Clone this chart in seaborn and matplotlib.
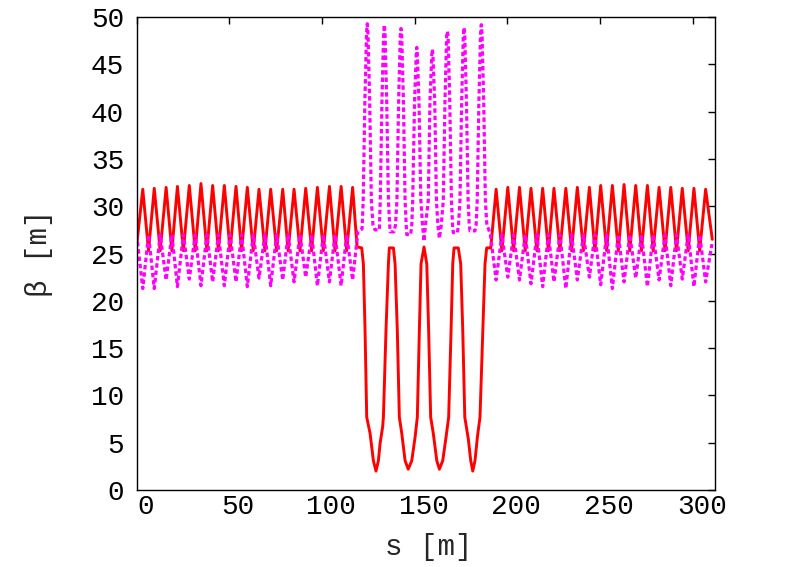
import numpy as np
import pandas as pd
import matplotlib
matplotlib.use('Agg')
import matplotlib.pyplot as plt
import matplotlib.transforms as mtransforms
import seaborn as sns

# horizontal beta (red, solid): s [m], beta [m]
red_s = [0.0, 3.3, 6.4, 9.5, 12.7, 15.9, 19.0, 22.0, 25.2, 28.4, 31.6, 34.7, 37.9,
         41.0, 44.1, 47.3, 50.4, 53.6, 56.6, 59.7, 62.9, 66.0, 69.2, 72.3, 75.5,
         78.8, 81.7, 84.9, 88.1, 91.2, 94.4, 97.5, 100.7, 104.0, 107.0, 110.3, 113.3,
         116.5, 118.9, 121.4,
         122.3, 123.2, 124.1, 125.9, 127.7, 129.1, 130.4, 131.3, 132.7, 133.1, 134.5,
         135.8, 136.3, 138.5,
         139.4, 140.6, 141.7, 143.0, 144.8, 146.5, 148.4, 150.2, 151.4, 152.5, 153.4,
         155.0,
         156.5, 157.5, 158.6, 160.0, 161.9, 163.3, 165.1, 166.9, 168.3, 169.6, 170.5,
         171.2, 173.5,
         174.8, 175.9, 177.0, 178.9, 180.2, 181.3, 182.5, 183.8, 185.2, 186.7, 187.9,
         188.8, 191.0,
         193.9, 197.0, 200.2, 203.3, 206.5, 209.6, 212.7, 215.9, 219.0, 222.1, 225.1,
         228.3, 231.5, 234.6, 237.7, 241.0, 244.2, 247.2, 250.3, 253.5, 256.6, 259.8,
         262.9, 266.0, 269.2, 272.3, 275.5, 278.6, 281.8, 285.0, 288.1, 291.2, 294.3,
         297.5, 300.6, 303.7, 306.9, 310.5]
red_beta = [25.8, 31.8, 25.3, 31.9, 25.3, 32.0, 25.3, 32.1, 25.3, 32.2, 25.3, 32.4, 25.3,
            32.2, 25.3, 32.2, 25.3, 32.1, 25.3, 32.0, 25.3, 31.8, 25.3, 31.8, 25.3,
            31.8, 25.3, 31.8, 25.3, 31.9, 25.3, 32.0, 25.3, 32.1, 25.3, 32.1, 25.3,
            32.0, 25.7, 25.6,
            23.9, 16.9, 7.7, 6.0, 3.1, 2.0, 3.1, 4.9, 6.7, 7.7, 16.9,
            23.9, 25.6, 25.6,
            23.9, 16.9, 7.7, 6.0, 3.1, 2.2, 3.1, 5.6, 7.7, 16.9, 23.9,
            25.7,
            23.9, 16.9, 7.7, 6.0, 3.1, 2.2, 3.1, 5.6, 7.7, 16.9, 23.9,
            25.6, 25.6,
            23.9, 16.9, 7.7, 5.4, 3.1, 2.0, 3.1, 5.6, 7.7, 16.9, 23.9,
            25.6, 25.6,
            31.8, 25.3, 32.0, 25.3, 32.0, 25.3, 31.9, 25.3, 31.9, 25.3, 31.9,
            25.3, 31.9, 25.3, 32.0, 25.3, 32.0, 25.3, 32.2, 25.3, 32.2, 25.3,
            32.3, 25.3, 32.2, 25.3, 32.2, 25.3, 32.0, 25.3, 32.0, 25.3, 31.9,
            25.3, 31.9, 25.3, 31.8, 26.5]

# vertical beta (magenta, dotted)
mag_s = [0.0, 3.3, 6.4, 9.5, 12.7, 15.9, 19.0, 22.0, 25.2, 28.4, 31.6, 34.7, 37.9,
         41.0, 44.1, 47.3, 50.4, 53.6, 56.6, 59.7, 62.9, 66.0, 69.2, 72.3, 75.5,
         78.8, 81.7, 84.9, 88.1, 91.2, 94.4, 97.5, 100.7, 104.0, 107.0, 110.3, 113.3,
         116.5, 119.4, 121.6,
         122.2, 123.1, 124.0, 124.4, 124.8, 125.7, 126.6, 127.5, 128.6, 130.9,
         131.4, 132.3, 133.2, 133.6, 134.0, 134.9, 135.8, 136.5, 136.7, 138.8,
         139.6, 140.4, 141.3, 142.2, 142.6, 143.0, 143.9, 144.8, 145.4, 145.7, 147.8,
         148.4, 148.9, 149.9, 150.8, 151.1, 151.4, 152.3, 153.3, 154.2, 155.0,
         155.8, 157.3, 158.2, 159.2, 159.5, 159.8, 160.8, 161.7, 162.5, 163.3,
         164.3, 165.4, 166.3, 167.2, 167.6, 168.0, 168.9, 169.8, 170.4, 170.8, 173.0,
         173.6, 174.4, 175.3, 176.2, 176.6, 177.0, 177.9, 178.8, 179.4, 179.8, 182.5,
         183.1, 183.7, 184.6, 185.5, 185.9, 186.3, 187.2, 188.1, 188.9, 189.8, 190.8,
         193.9, 197.0, 200.2, 203.3, 206.5, 209.6, 212.7, 215.9, 219.0, 222.1, 225.1,
         228.3, 231.5, 234.6, 237.7, 241.0, 244.2, 247.2, 250.3, 253.5, 256.6, 259.8,
         262.9, 266.0, 269.2, 272.3, 275.5, 278.6, 281.8, 285.0, 288.1, 291.2, 294.3,
         297.5, 300.6, 303.7, 306.9, 310.3]
mag_beta = [27.0, 21.3, 27.0, 21.3, 27.0, 22.2, 27.0, 21.5, 27.0, 22.3, 27.0, 21.6, 27.0,
            22.0, 27.0, 21.6, 27.0, 22.0, 27.0, 21.5, 27.0, 22.4, 27.0, 21.6, 27.0,
            22.2, 27.0, 22.0, 27.0, 22.5, 27.0, 21.6, 27.0, 22.0, 27.0, 21.6, 27.0,
            22.2, 27.4, 27.6,
            30.6, 41.0, 48.2, 49.3, 48.2, 41.0, 30.6, 28.0, 27.5, 27.5,
            30.6, 41.0, 48.2, 49.2, 48.2, 41.0, 30.6, 28.0, 27.3, 27.3,
            28.0, 30.6, 41.0, 48.0, 48.8, 48.0, 41.0, 30.6, 28.0, 27.0, 27.0,
            28.0, 30.6, 41.0, 46.0, 46.8, 46.0, 41.0, 30.6, 28.0, 26.3,
            28.0, 30.6, 41.0, 46.0, 46.6, 46.0, 41.0, 30.6, 28.0, 26.6,
            28.0, 30.6, 41.0, 48.0, 48.5, 48.0, 41.0, 30.6, 28.0, 27.2, 27.2,
            28.0, 30.6, 41.0, 48.0, 48.9, 48.0, 41.0, 30.6, 28.0, 27.4, 27.4,
            28.0, 30.6, 41.0, 48.2, 49.2, 48.2, 41.0, 30.6, 28.0, 27.6, 27.0,
            22.2, 27.0, 22.5, 27.0, 22.2, 27.0, 21.8, 27.0, 21.5, 27.0, 22.0,
            27.0, 21.3, 27.0, 22.2, 27.0, 22.5, 27.0, 21.7, 27.0, 21.3, 27.0,
            22.0, 27.0, 22.4, 27.0, 21.5, 27.0, 22.2, 27.0, 21.6, 27.0, 22.3,
            27.0, 21.5, 27.0, 22.0, 26.0]

xticks = [0, 50, 100, 150, 200, 250, 300]
yticks = [0, 5, 10, 15, 20, 25, 30, 35, 40, 45, 50]

sns.set_style('white')
plt.rcParams['font.family'] = ['Liberation Mono', 'DejaVu Sans']

fig = plt.figure(figsize=(8.09, 5.67), dpi=100)
ax = fig.add_axes([0.1689, 0.1358, 0.715, 0.834])

red = pd.DataFrame({'s': red_s, 'beta': red_beta})
mag = pd.DataFrame({'s': mag_s, 'beta': mag_beta})
sns.lineplot(data=red, x='s', y='beta', sort=False, estimator=None, color='red',
             linewidth=2.1, ax=ax)
sns.lineplot(data=mag, x='s', y='beta', sort=False, estimator=None, color='magenta',
             linewidth=2.3, linestyle=(0, (1.4, 0.9)), ax=ax)

ax.set_xlim(0, 312)
ax.set_ylim(0, 50)
ax.set_xticks(xticks)
ax.set_yticks(yticks)
ax.tick_params(direction='in', top=True, right=True, length=5, width=1,
               labelsize=20, colors='black')
ax.tick_params(axis='x', pad=3)
ax.tick_params(axis='y', pad=9)
for sp in ax.spines.values():
    sp.set_linewidth(1.0)
    sp.set_color('black')

# gnuplot puts the x labels slightly right of the tick
off = mtransforms.ScaledTranslation(9 / 100, 0, fig.dpi_scale_trans)
for lab in ax.get_xticklabels():
    lab.set_transform(lab.get_transform() + off)

ax.set_xlabel('s [m]', fontsize=21)
ax.set_ylabel('β [m]', fontsize=21)
ax.xaxis.set_label_coords(0.505, -0.09)
ax.yaxis.set_label_coords(-0.145, 0.5)

fig.savefig('out.png', dpi=100)
